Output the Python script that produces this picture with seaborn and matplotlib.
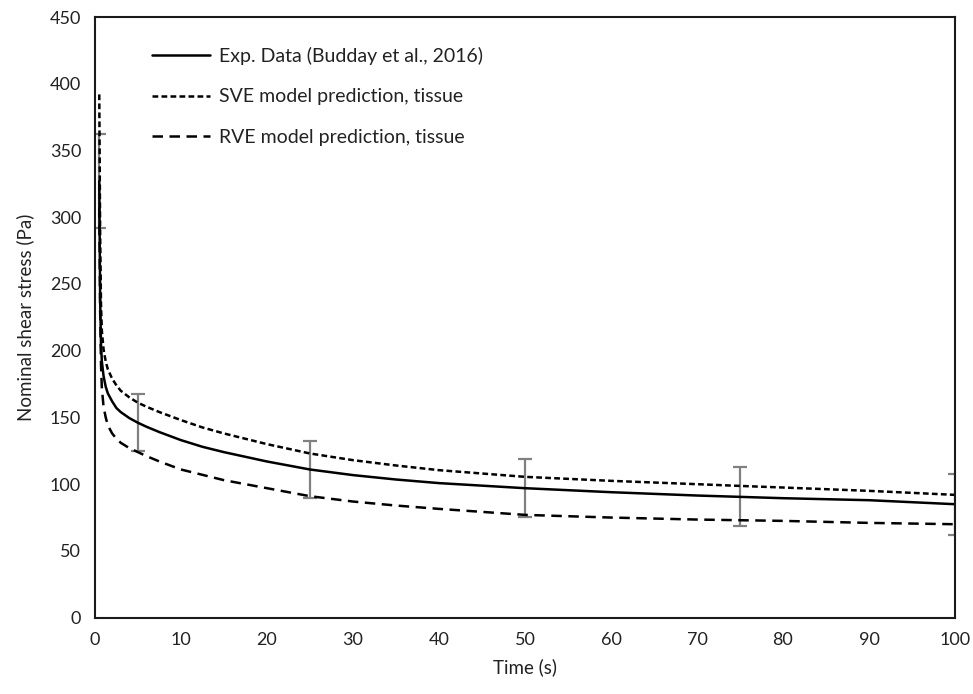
import numpy as np
import pandas as pd
import matplotlib
matplotlib.use("Agg")
import matplotlib.pyplot as plt
import seaborn as sns

# Relaxation test: nominal shear stress over time
time_s = [0.5, 0.6, 0.7, 0.8, 1.0, 1.25, 1.5, 2, 2.5, 3, 4, 5, 6, 7.5, 10,
          12.5, 15, 20, 25, 30, 35, 40, 50, 60, 70, 75, 80, 90, 100]
exp_stress = [327, 240, 205, 192, 181, 173, 168, 162, 157, 154, 149.5, 146, 143, 139, 133,
              128, 124, 117, 111, 106.8, 103.5, 100.8, 97, 94, 91.5, 90.5, 89.5, 88, 85]
sve_stress = [392, 290, 235, 215, 201, 192, 186, 179, 174, 170, 165, 161, 158, 154, 148,
              142.5, 138, 130, 123, 118, 114, 110.5, 105.5, 102.5, 100, 98.7, 97.5, 95, 92]
rve_stress = [307, 230, 190, 172, 158, 150, 144, 138, 134, 131, 127, 124, 121, 117, 111,
              107, 103, 97, 91, 87, 84, 81.5, 77, 75, 73.5, 73, 72.5, 71, 70]

# Experimental standard deviation at the sampled time points
err_time = [0.5, 5, 25, 50, 75, 100]
err_size = [35, 21.5, 21, 21.5, 22, 23]

labels = ["Exp. Data (Budday et al., 2016)",
          "SVE model prediction, tissue",
          "RVE model prediction, tissue"]

x_ticks = list(range(0, 101, 10))
y_ticks = list(range(0, 451, 50))

sns.set_theme(style="white")
plt.rcParams["font.family"] = ["Lato", "DejaVu Sans"]

fig = plt.figure(figsize=(9.73, 6.94), dpi=100)
ax = fig.add_axes([0.0976, 0.110, 0.8839, 0.8655])

df = pd.DataFrame({"time": time_s, "exp": exp_stress,
                   "sve": sve_stress, "rve": rve_stress})

lw = 1.8
sns.lineplot(data=df, x="time", y="exp", ax=ax, color="black", lw=lw,
             label=labels[0], linestyle="-")
sns.lineplot(data=df, x="time", y="sve", ax=ax, color="black", lw=lw,
             label=labels[1], linestyle=(0, (2.3, 1.3)))
sns.lineplot(data=df, x="time", y="rve", ax=ax, color="black", lw=lw,
             label=labels[2], linestyle=(0, (4.2, 2.6)))

err_y = [exp_stress[time_s.index(t)] for t in err_time]
ax.errorbar(err_time, err_y, yerr=err_size, fmt="none", ecolor="#808080",
            elinewidth=1.6, capsize=5, capthick=1.6, zorder=1)

ax.set_xlim(0, 100)
ax.set_ylim(0, 450)
ax.set_xticks(x_ticks)
ax.set_yticks(y_ticks)
ax.tick_params(axis="both", length=0, labelsize=13, colors="#222222", pad=10)
ax.set_xlabel("Time (s)", fontsize=13.5, color="#222222", labelpad=8)
ax.set_ylabel("Nominal shear stress (Pa)", fontsize=13.5, color="#222222", labelpad=11)

for sp in ax.spines.values():
    sp.set_visible(True)
    sp.set_color("#1a1a1a")
    sp.set_linewidth(1.5)

leg = ax.legend(loc="upper left", bbox_to_anchor=(0.066, 0.950), frameon=False,
                fontsize=14, handlelength=3.0, handletextpad=0.45,
                labelspacing=1.2, borderpad=0, borderaxespad=0)
for t in leg.get_texts():
    t.set_color("#222222")

fig.savefig("out.png", dpi=100)
